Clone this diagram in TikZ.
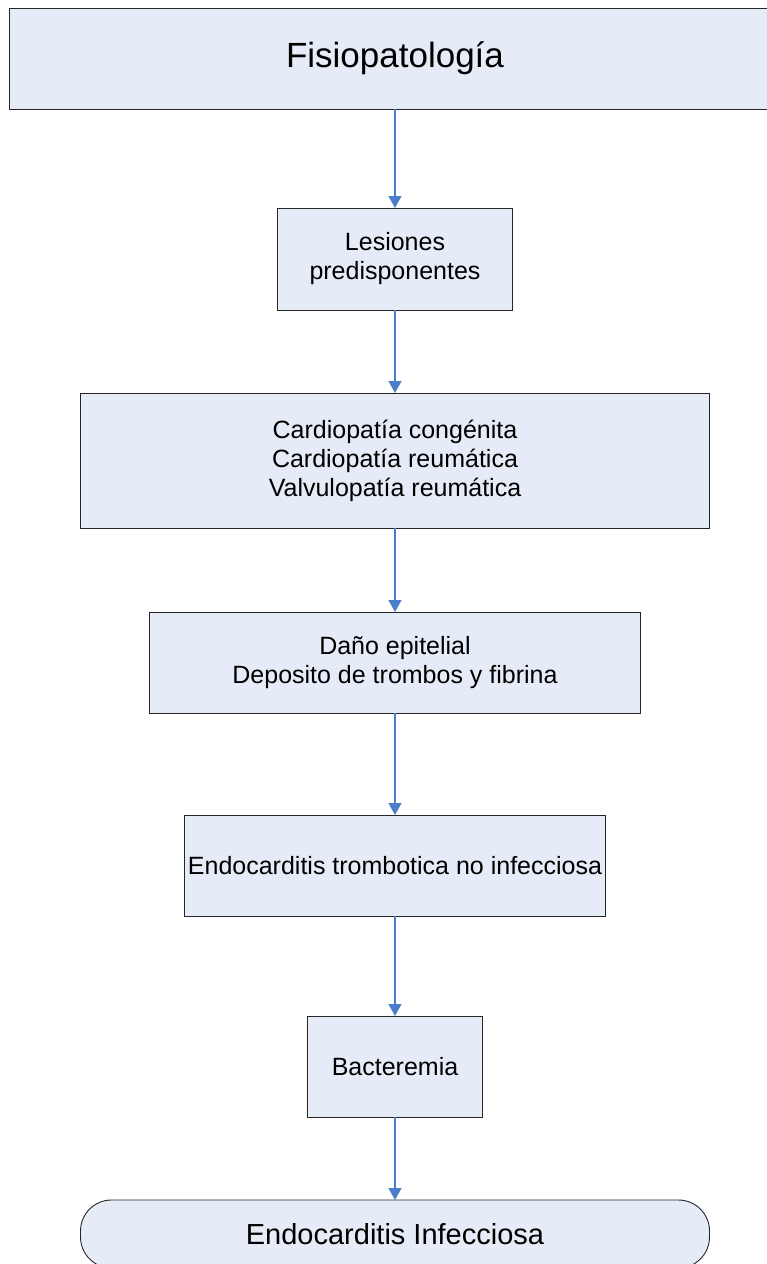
\documentclass[tikz,border=0pt]{standalone}
\usepackage{fontspec}
\setmainfont{Liberation Sans}
\usepackage{tikz}
\usetikzlibrary{positioning, arrows.meta}

\definecolor{cajafondo}{RGB}{230,236,247}
\definecolor{flecha}{RGB}{74,126,200}

\begin{document}
\begin{tikzpicture}[
        caja/.style={draw=black!85, fill=cajafondo, line width=0.9pt, rectangle, outer sep=0pt, align=center, font=\fontsize{25}{29}\selectfont},
        flujo/.style={draw=flecha, line width=1.2pt, -{Triangle[width=13pt,length=12pt,fill=flecha]}}]
        \useasboundingbox (0,0) rectangle (767pt,-1264pt);
        \node[caja, minimum width=772pt, minimum height=101pt, font=\fontsize{35}{40}\selectfont] (0) at (395pt,-58.5pt) {Fisiopatología};
        \node[caja, minimum width=235pt, minimum height=102pt, below=99pt of 0] (1) {Lesiones\\predisponentes};
        \node[caja, minimum width=629pt, minimum height=135pt, below=83pt of 1] (2) {Cardiopatía congénita\\Cardiopatía reumática\\Valvulopatía reumática};
        \node[caja, minimum width=491pt, minimum height=101pt, below=84pt of 2] (3) {Daño epitelial\\Deposito de trombos y fibrina};
        \node[caja, minimum width=421pt, minimum height=101pt, below=102pt of 3] (4) {Endocarditis trombotica no infecciosa};
        \node[caja, minimum width=175pt, minimum height=101pt, below=100pt of 4] (5) {Bacteremia};
        \node[caja, minimum width=629pt, minimum height=68pt, rounded corners=31pt, below=83pt of 5, font=\fontsize{29}{34}\selectfont] (6) {Endocarditis Infecciosa};
        \path
        (0) edge[flujo] (1)
        (1) edge[flujo] (2)
        (2) edge[flujo] (3)
        (3) edge[flujo] (4)
        (4) edge[flujo] (5)
        (5) edge[flujo] (6);
\end{tikzpicture}
\end{document}
